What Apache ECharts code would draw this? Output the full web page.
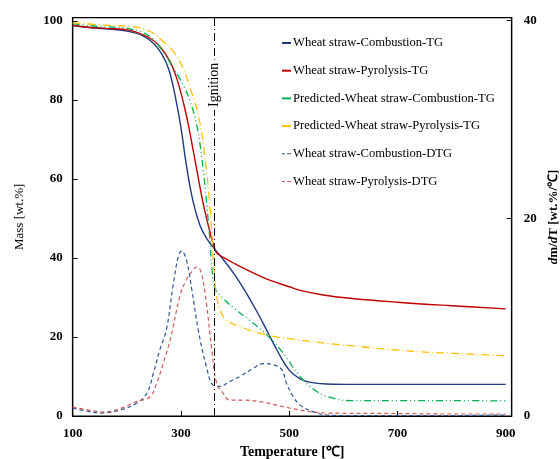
<!DOCTYPE html>
<html><head><meta charset="utf-8">
<script src="https://cdn.jsdelivr.net/npm/echarts@6/dist/echarts.min.js"></script>
<style>html,body{margin:0;padding:0;background:#fff}#c{width:560px;height:459px}</style>
</head><body><div id="c"></div>
<script>
// Tick labels
const xTickLabels = [100, 300, 500, 700, 900];
const xTickMarks = [300, 500, 700];
const massTicks = [0, 20, 40, 60, 80, 100];
const dtgTicks = [0, 20, 40];
const ignitionT = 361;

const seriesNames = [
  'Wheat straw-Combustion-TG',
  'Wheat straw-Pyrolysis-TG',
  'Predicted-Wheat straw-Combustion-TG',
  'Predicted-Wheat straw-Pyrolysis-TG',
  'Wheat straw-Combustion-DTG',
  'Wheat straw-Pyrolysis-DTG'
];

// Wheat straw - Combustion - TG
const combTG_T = [100,130,160,200,230,250,265,278,290,300,310,322,335,348,360,380,400,420,440,460,480,500,520,540,570,612,700,800,900];
const combTG_V = [98.8,98.3,98.0,97.4,96.2,94.2,91.5,87.5,80.5,73.0,63.5,54.5,48.3,44.8,42.6,39.3,35.6,31.3,26.5,21.3,16.0,11.6,9.4,8.5,8.1,8.0,8.0,8.0,8.0];

// Wheat straw - Pyrolysis - TG
const pyrTG_T = [100,130,160,206,243,261,280,292,304,314,323,329,341,354,360,366,380,400,420,440,460,480,500,520,560,612,700,800,900];
const pyrTG_V = [98.9,98.4,98.1,97.6,95.6,93.5,89.7,85.5,79.6,73.5,66.9,62.5,53.8,46.3,43.3,41.3,40.0,38.5,37.1,35.8,34.6,33.6,32.7,31.8,30.7,29.8,28.8,27.9,27.1];

// Predicted - Combustion - TG
const predCombTG_T = [100,130,160,206,243,267,286,304,317,329,336,341,348,354,357,363,380,397,427,458,489,520,551,581,612,700,800,900];
const predCombTG_V = [99.3,98.8,98.5,98.0,96.0,92.2,88.0,83.8,79.6,73.7,68.0,62.5,53.0,43.5,37.5,32.3,29.5,27.4,24.2,20.6,15.9,10.0,6.2,4.5,3.9,3.9,3.9,3.8];

// Predicted - Pyrolysis - TG
const predPyrTG_T = [100,130,160,206,243,267,286,304,317,329,338,341,347,354,358,360,363,366,372,384,409,458,520,575,612,735,800,900];
const predPyrTG_V = [99.5,99.2,98.9,98.6,97.3,94.8,92.2,88.0,82.9,77.9,72.0,69.0,62.3,52.2,44.0,38.7,33.6,30.2,26.8,24.3,22.6,20.5,19.2,18.3,17.8,16.3,15.9,15.2];

// Wheat straw - Combustion - DTG
const combDTG_T = [100,126,150,187,218,237,249,261,273,286,295,301,310,320,332,347,360,372,390,409,433,452,470,486,495,507,520,544,570,600,700,800,900];
const combDTG_V = [0.8,0.5,0.3,0.6,1.3,2.3,4.3,6.7,8.7,13.4,16.1,16.7,15.8,12.8,8.7,5.0,3.1,3.0,3.5,4.0,4.8,5.3,5.2,4.7,3.3,2.0,1.1,0.44,0.1,0.05,0.05,0.05,0.1];

// Wheat straw - Pyrolysis - DTG
const pyrDTG_T = [100,130,160,190,218,243,255,267,280,298,310,323,330,338,347,357,366,378,390,415,446,477,520,570,700,800,900];
const pyrDTG_V = [0.9,0.6,0.4,0.8,1.45,1.95,3.3,5.3,7.7,12.1,13.8,14.8,15.1,14.4,11.4,6.7,3.3,2.3,1.6,1.6,1.45,1.1,0.6,0.3,0.25,0.2,0.2];

const zip = (a, b) => a.map((t, i) => [t, b[i]]);
const serif = '"Liberation Serif","Times New Roman",serif';

const chart = echarts.init(document.getElementById('c'), null, {renderer: 'canvas'});

const solidIcon = 'rect';
const dashIcon = 'path://M0,0h3v1h-3zM5,0h4v1h-4z';

function lineSeries(name, t, v, color, type, yIndex, width) {
  return {
    name: name, type: 'line', yAxisIndex: yIndex, data: zip(t, v),
    showSymbol: false, symbol: 'none', smooth: 0.4,
    lineStyle: {color: color, width: width, type: type},
    itemStyle: {color: color},
    z: 3
  };
}

const series = [
  lineSeries(seriesNames[0], combTG_T, combTG_V, '#1F3A80', 'solid', 0, 1.4),
  lineSeries(seriesNames[1], pyrTG_T, pyrTG_V, '#C00000', 'solid', 0, 1.4),
  lineSeries(seriesNames[2], predCombTG_T, predCombTG_V, '#00B050', [7,3,1,3,1,3], 0, 1.3),
  lineSeries(seriesNames[3], predPyrTG_T, predPyrTG_V, '#FFC000', [8,3,1,3], 0, 1.3),
  lineSeries(seriesNames[4], combDTG_T, combDTG_V, '#2F5597', [4,3], 1, 1.2),
  lineSeries(seriesNames[5], pyrDTG_T, pyrDTG_V, '#D05A5A', [4,3], 1, 1.2)
];

series[0].markLine = {
  silent: true, symbol: 'none', animation: false,
  lineStyle: {color: '#000', width: 1, type: [8,3,1,3]},
  label: {
    show: true, formatter: 'Ignition', position: 'insideEnd', distance: 42,
    fontFamily: serif, fontSize: 14, color: '#000',
    backgroundColor: '#fff', padding: [0, 3]
  },
  data: [[{coord: [ignitionT, 0]}, {coord: [ignitionT, 100.8]}]]
};

const legendData = seriesNames.map((n, i) => ({name: n, icon: i >= 4 ? dashIcon : solidIcon}));

chart.setOption({
  animation: false,
  backgroundColor: '#fff',
  grid: {left: 72.7, right: 48.3, top: 17.7, bottom: 43, containLabel: false, outerBoundsMode: 'none',
    show: true, borderColor: '#000', borderWidth: 1.2, backgroundColor: 'transparent'},
  legend: {
    orient: 'vertical', left: 277, top: 31, itemWidth: 9, itemHeight: 2, itemGap: 13.7,
    textStyle: {fontFamily: serif, fontSize: 12.6, color: '#000', lineHeight: 14, padding: [0, 0, 0, -3]},
    data: legendData
  },
  xAxis: {
    type: 'value', min: 100, max: 911,
    name: 'Temperature [℃]', nameLocation: 'middle', nameGap: 22,
    nameTextStyle: {fontFamily: serif, fontSize: 14, fontWeight: 'bold', color: '#000'},
    axisLine: {show: true, lineStyle: {color: '#000', width: 1.2}},
    axisTick: {show: true, inside: true, length: 5, customValues: xTickMarks, lineStyle: {color: '#000'}},
    axisLabel: {customValues: xTickLabels, fontFamily: serif, fontSize: 13, fontWeight: 'bold', color: '#000', margin: 11},
    splitLine: {show: false}
  },
  yAxis: [
    {
      type: 'value', min: 0, max: 100.8, position: 'left',
      name: 'Mass [wt.%]', nameLocation: 'middle', nameGap: 47, nameRotate: 90,
      nameTextStyle: {fontFamily: serif, fontSize: 13, color: '#000'},
      axisLine: {show: true, lineStyle: {color: '#000', width: 1.2}},
      axisTick: {show: true, inside: true, length: 5, customValues: massTicks, lineStyle: {color: '#000'}},
      axisLabel: {customValues: massTicks, fontFamily: serif, fontSize: 13, fontWeight: 'bold', color: '#000', margin: 10},
      splitLine: {show: false}
    },
    {
      type: 'value', min: 0, max: 40.3, position: 'right',
      name: '{i|d}m/{i|d}T [wt.%/℃]', nameLocation: 'middle', nameGap: 33, nameRotate: 90,
      nameTextStyle: {fontFamily: serif, fontSize: 13, fontWeight: 'bold', color: '#000',
        rich: {i: {fontFamily: serif, fontSize: 13, fontWeight: 'bold', fontStyle: 'italic', color: '#000'}}},
      axisLine: {show: true, lineStyle: {color: '#000', width: 1.2}},
      axisTick: {show: true, inside: true, length: 5, customValues: dtgTicks, lineStyle: {color: '#000'}},
      axisLabel: {customValues: dtgTicks, fontFamily: serif, fontSize: 13, fontWeight: 'bold', color: '#000', margin: 12},
      splitLine: {show: false}
    }
  ],
  series: series
});
</script>
</body></html>
